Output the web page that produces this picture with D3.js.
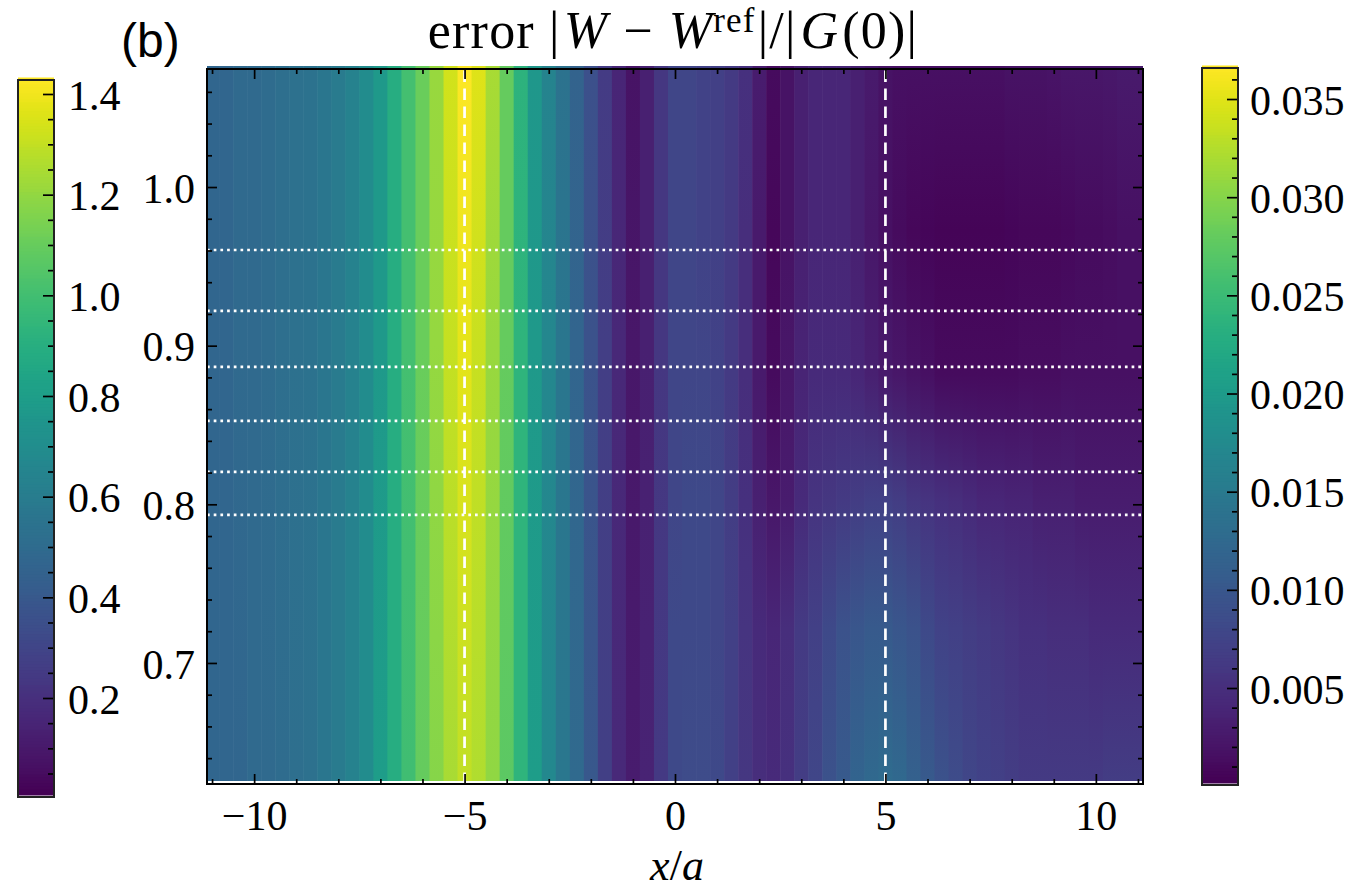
<!DOCTYPE html>
<html><head><meta charset="utf-8">
<script src="https://cdn.jsdelivr.net/npm/d3@7"></script>
<style>
html,body{margin:0;padding:0;background:#fff;}
svg{display:block;}
text{font-family:"Liberation Serif","Times New Roman",serif;fill:#000;}
</style></head><body>
<svg id="chart" width="1369" height="892"></svg>
<script>
// ---- mesh columns (x/a) ----
const xLeft = [-11,-10.667,-10.333,-10,-9.667,-9.333,-9,-8.667,-8.333,-8,-7.667,-7.333,-7,-6.667,-6.333,-6,-5.667,-5.333,-5,-4.667,-4.333,-4,-3.667,-3.333,-3,-2.667,-2.333,-2,-1.667,-1.333,-1,-0.667,-0.333];
const xRight = [0,0.333,0.667,1,1.333,1.667,2,2.333,2.667,3,3.333,3.667,4,4.333,4.667,5,5.333,5.667,6,6.333,6.667,7,7.333,7.667,8,8.333,8.667,9,9.333,9.667,10,10.333,10.667,11];
const colStep = 1 / 3;

// ---- left half (left colour bar), rows at these y levels ----
const leftLevels = [1.075, 0.90, 0.623];
const leftTop    = [0.47,0.47,0.49,0.49,0.50,0.52,0.53,0.54,0.56,0.59,0.63,0.69,0.77,0.89,1.00,1.10,1.21,1.33,1.425,1.36,1.24,1.09,0.92,0.76,0.64,0.54,0.45,0.35,0.25,0.15,0.075,0.13,0.23];
const leftMid    = [0.47,0.47,0.49,0.49,0.50,0.52,0.53,0.54,0.56,0.59,0.63,0.69,0.77,0.89,1.00,1.10,1.20,1.30,1.37,1.31,1.21,1.09,0.93,0.77,0.66,0.56,0.46,0.36,0.26,0.16,0.09,0.13,0.23];
const leftBottom = [0.47,0.47,0.47,0.49,0.49,0.50,0.52,0.53,0.56,0.59,0.63,0.69,0.79,0.89,0.99,1.09,1.17,1.24,1.29,1.26,1.19,1.07,0.93,0.79,0.67,0.57,0.49,0.39,0.27,0.17,0.11,0.14,0.24];

// ---- right half (right colour bar), rows at these y levels ----
const rightLevels = [1.075, 0.97, 0.88, 0.80, 0.72, 0.623];
const rightY1075 = [0.0077,0.0077,0.0073,0.0070,0.0062,0.0051,0.0029,0.0011,0.0018,0.0033,0.0040,0.0040,0.0040,0.0033,0.0026,0.0018,0.0015,0.0015,0.0015,0.0015,0.0015,0.0015,0.0015,0.0016,0.0018,0.0018,0.0018,0.0020,0.0022,0.0022,0.0022,0.0024,0.0026,0.0026];
const rightY097  = [0.0077,0.0077,0.0073,0.0070,0.0062,0.0048,0.0026,0.0007,0.0018,0.0033,0.0040,0.0040,0.0040,0.0033,0.0022,0.0015,0.0011,0.0007,0.00055,0.0004,0.0004,0.0004,0.0004,0.0004,0.00055,0.0007,0.0007,0.0007,0.0009,0.0011,0.0011,0.0013,0.0015,0.0015];
const rightY088  = [0.0077,0.0077,0.0077,0.0073,0.0062,0.0048,0.0026,0.0011,0.0022,0.0037,0.0044,0.0044,0.0044,0.0040,0.0033,0.0026,0.0022,0.0018,0.0015,0.0011,0.0011,0.0011,0.0011,0.0011,0.0011,0.0013,0.0013,0.0013,0.0015,0.0015,0.0015,0.0015,0.0015,0.0015];
const rightY080  = [0.0077,0.0081,0.0081,0.0077,0.0066,0.0051,0.0033,0.0022,0.0029,0.0044,0.0055,0.0059,0.0062,0.0066,0.0070,0.0070,0.0066,0.0059,0.0055,0.0051,0.0048,0.0044,0.0040,0.0040,0.0037,0.0037,0.0033,0.0033,0.0033,0.0029,0.0029,0.0029,0.0029,0.0029];
const rightY072  = [0.0081,0.0081,0.0081,0.0077,0.0070,0.0055,0.0044,0.0040,0.0048,0.0062,0.0070,0.0081,0.0092,0.0099,0.0102,0.0102,0.0099,0.0092,0.0081,0.0073,0.0070,0.0066,0.0062,0.0059,0.0055,0.0051,0.0051,0.0048,0.0048,0.0048,0.0044,0.0044,0.0044,0.0044];
const rightY062  = [0.0081,0.0084,0.0084,0.0081,0.0070,0.0059,0.0048,0.0044,0.0051,0.0066,0.0077,0.0092,0.0102,0.0117,0.0124,0.0128,0.0124,0.0113,0.0102,0.0092,0.0084,0.0077,0.0073,0.0070,0.0066,0.0062,0.0062,0.0062,0.0062,0.0062,0.0062,0.0066,0.0066,0.0066];

// ---- guide lines ----
const vLines = [-5, 5];
const hLines = [0.9603, 0.9219, 0.8866, 0.8526, 0.8204, 0.7933];

// ---- ticks ----
const xMajor = [-10, -5, 0, 5, 10];
const xMinor = [-11,-9,-8,-7,-6,-4,-3,-2,-1,1,2,3,4,6,7,8,9,11];
const yMajor = [0.7, 0.8, 0.9, 1.0];
const yMinor = [0.64,0.66,0.68,0.72,0.74,0.76,0.78,0.82,0.84,0.86,0.88,0.92,0.94,0.96,0.98,1.02,1.04,1.06];
const cbLeftDomain = [0.0033, 1.4278];
const cbLeftMajor = [0.2, 0.4, 0.6, 0.8, 1.0, 1.2, 1.4];
const cbLeftMinor = [0.05,0.1,0.15,0.25,0.3,0.35,0.45,0.5,0.55,0.65,0.7,0.75,0.85,0.9,0.95,1.05,1.1,1.15,1.25,1.3,1.35];
const cbRightDomain = [0.00006, 0.03658];
const cbRightMajor = [0.005, 0.010, 0.015, 0.020, 0.025, 0.030, 0.035];
const cbRightMinor = [0.001,0.002,0.003,0.004,0.006,0.007,0.008,0.009,0.011,0.012,0.013,0.014,0.016,0.017,0.018,0.019,0.021,0.022,0.023,0.024,0.026,0.027,0.028,0.029,0.031,0.032,0.033,0.034,0.036];

// ---- layout ----
const svg = d3.select("#chart");
const P = {left: 207, right: 1143, top: 69, bottom: 784};
const x = d3.scaleLinear().domain([-11.12, 11.12]).range([P.left, P.right]);
const y = d3.scaleLinear().domain([0.6237, 1.0744]).range([P.bottom, P.top]);
const colorL = d3.scaleSequential(d3.interpolateViridis).domain(cbLeftDomain);
const colorR = d3.scaleSequential(d3.interpolateViridis).domain(cbRightDomain);
const defs = svg.append("defs");
defs.append("clipPath").attr("id", "plotClip").append("rect")
  .attr("x", P.left).attr("y", P.top).attr("width", P.right - P.left).attr("height", P.bottom - P.top);

// ---- heat map: one column per mesh x, vertical gradient through the rows ----
const heatOuter = svg.append("g").attr("transform", "translate(0,-3)");
const heat = heatOuter.append("g").attr("clip-path", "url(#plotClip)");

function drawHalf(name, xs, levels, rows, color) {
  const y1 = y(levels[0]), y2 = y(levels[levels.length - 1]);
  xs.forEach((xc, i) => {
    const id = `${name}${i}`;
    const g = defs.append("linearGradient").attr("id", id)
      .attr("gradientUnits", "userSpaceOnUse")
      .attr("x1", 0).attr("x2", 0).attr("y1", y1).attr("y2", y2);
    levels.forEach((lv, k) => {
      g.append("stop").attr("offset", (y(lv) - y1) / (y2 - y1))
        .attr("stop-color", color(rows[k][i]));
    });
    const xa = x(xc - colStep / 2), xb = x(xc + colStep / 2);
    heat.append("rect")
      .attr("x", xa).attr("width", xb - xa + 0.6)
      .attr("y", y1).attr("height", y2 - y1)
      .attr("fill", `url(#${id})`);
  });
}
drawHalf("gl", xLeft, leftLevels, [leftTop, leftMid, leftBottom], colorL);
drawHalf("gr", xRight, rightLevels, [rightY1075, rightY097, rightY088, rightY080, rightY072, rightY062], colorR);

// ---- guide lines ----
const guides = svg.append("g").attr("clip-path", "url(#plotClip)");
guides.selectAll("line.h").data(hLines).join("line")
  .attr("x1", P.left).attr("x2", P.right)
  .attr("y1", d => y(d)).attr("y2", d => y(d))
  .attr("stroke", "#fff").attr("stroke-width", 2.7).attr("stroke-dasharray", "2.7,4");
guides.selectAll("line.v").data(vLines).join("line")
  .attr("x1", d => x(d)).attr("x2", d => x(d))
  .attr("y1", P.bottom).attr("y2", P.top)
  .attr("stroke", "#fff").attr("stroke-width", 2.7).attr("stroke-dasharray", "11.5,6.5");

// ---- axes ----
function styleAxis(g) {
  g.select(".domain").remove();
  g.selectAll(".tick line").attr("stroke", "#000").attr("stroke-width", 1.7);
  g.selectAll("text").style("font-size", "42px").attr("fill", "#000")
    .style("font-family", '"Liberation Serif","Times New Roman",serif');
}
const fmt1 = d3.format(".1f");
const fmtX = d3.format("d");

svg.append("g").attr("transform", `translate(0,${P.bottom})`)
  .call(d3.axisBottom(x).tickValues(xMajor).tickSize(-10).tickPadding(16).tickFormat(fmtX)).call(styleAxis);
svg.append("g").attr("transform", `translate(0,${P.bottom})`)
  .call(d3.axisBottom(x).tickValues(xMinor).tickSize(-5).tickFormat("")).call(styleAxis);
svg.append("g").attr("transform", `translate(0,${P.top})`)
  .call(d3.axisTop(x).tickValues(xMajor).tickSize(-10).tickFormat("")).call(styleAxis);
svg.append("g").attr("transform", `translate(0,${P.top})`)
  .call(d3.axisTop(x).tickValues(xMinor).tickSize(-5).tickFormat("")).call(styleAxis);

const yAx = svg.append("g").attr("transform", `translate(${P.left},0)`)
  .call(d3.axisLeft(y).tickValues(yMajor).tickSize(-10).tickPadding(12).tickFormat(fmt1)).call(styleAxis);
yAx.selectAll("text").attr("dy", "0.36em");
svg.append("g").attr("transform", `translate(${P.left},0)`)
  .call(d3.axisLeft(y).tickValues(yMinor).tickSize(-5).tickFormat("")).call(styleAxis);
svg.append("g").attr("transform", `translate(${P.right},0)`)
  .call(d3.axisRight(y).tickValues(yMajor).tickSize(-10).tickFormat("")).call(styleAxis);
svg.append("g").attr("transform", `translate(${P.right},0)`)
  .call(d3.axisRight(y).tickValues(yMinor).tickSize(-5).tickFormat("")).call(styleAxis);

svg.append("rect").attr("x", P.left).attr("y", P.top)
  .attr("width", P.right - P.left).attr("height", P.bottom - P.top)
  .attr("fill", "none").attr("stroke", "#000").attr("stroke-width", 2);

// ---- colour bars ----
function colorBar(x0, x1, top, bottom, domain, color, major, minor, fmt, pad) {
  const s = d3.scaleLinear().domain(domain).range([bottom, top]);
  const n = 240;
  const steps = d3.range(n).map(i => domain[0] + (i + 0.5) * (domain[1] - domain[0]) / n);
  const h = (bottom - top) / n;
  const g = svg.append("g");
  g.append("g").attr("transform", "translate(0,-2)").selectAll("rect").data(steps).join("rect")
    .attr("x", x0).attr("width", x1 - x0)
    .attr("y", d => s(d) - h / 2 - 0.5).attr("height", h + 1)
    .attr("fill", d => color(d));
  const ax = g.append("g").attr("transform", `translate(${x1},0)`)
    .call(d3.axisRight(s).tickValues(major).tickSize(-11).tickPadding(pad).tickFormat(fmt)).call(styleAxis);
  ax.selectAll("text").attr("dy", "0.36em");
  g.append("g").attr("transform", `translate(${x1},0)`)
    .call(d3.axisRight(s).tickValues(minor).tickSize(-6).tickFormat("")).call(styleAxis);
  g.append("rect").attr("x", x0).attr("y", top).attr("width", x1 - x0).attr("height", bottom - top)
    .attr("fill", "none").attr("stroke", "#222").attr("stroke-width", 2);
}
colorBar(18, 54, 80, 797, cbLeftDomain, colorL, cbLeftMajor, cbLeftMinor, d3.format(".1f"), 14);
colorBar(1202, 1238, 68, 785, cbRightDomain, colorR, cbRightMajor, cbRightMinor, d3.format(".3f"), 12);

// ---- title and labels ----
const title = svg.append("text").attr("x", 673).attr("y", 48)
  .attr("text-anchor", "middle").style("font-size", "52px").style("letter-spacing", "1.2px");
title.append("tspan").text("error |");
title.append("tspan").attr("dx", 3).attr("font-style", "italic").text("W");
title.append("tspan").attr("dx", 15).text("\u2212");
title.append("tspan").attr("dx", 15).attr("font-style", "italic").text("W");
title.append("tspan").attr("dy", -16).style("font-size", "35px").text("ref");
title.append("tspan").attr("dy", 16).attr("dx", 2).text("|/|");
title.append("tspan").attr("dx", 4).attr("font-style", "italic").text("G");
title.append("tspan").attr("dx", 3).text("(0)|");

svg.append("text").attr("x", 121).attr("y", 57)
  .style("font-family", '"Liberation Sans", Arial, sans-serif').style("font-size", "48px").text("(b)");

const xl = svg.append("text").attr("x", 677).attr("y", 880)
  .attr("text-anchor", "middle").style("font-size", "44px");
xl.append("tspan").attr("font-style", "italic").text("x");
xl.append("tspan").text("/");
xl.append("tspan").attr("font-style", "italic").text("a");
</script>
</body></html>
